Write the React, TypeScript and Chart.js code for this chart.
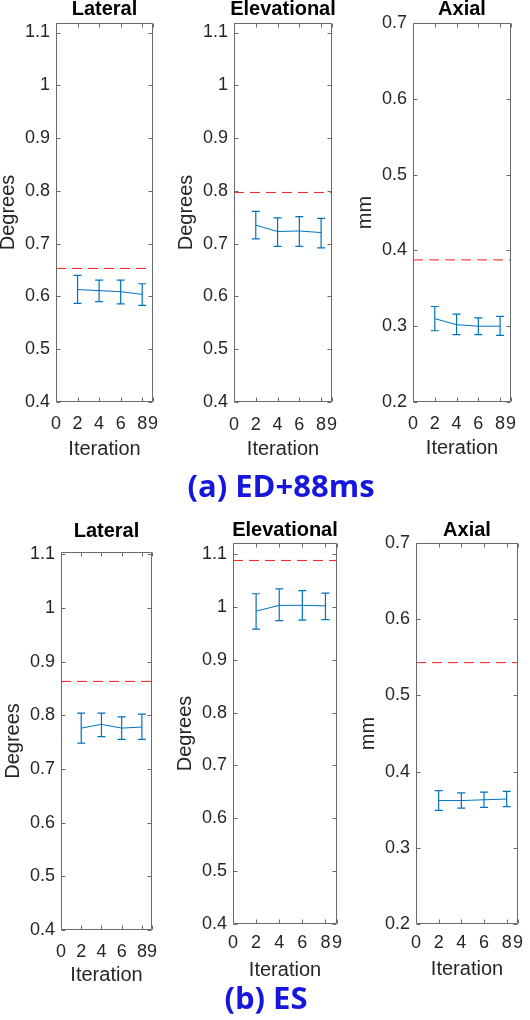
import React, { useEffect, useRef } from "react";
import { Chart, registerables } from "chart.js";

Chart.register(...registerables);

// ---------------- data ----------------
const iterations = [2, 4, 6, 8];
const xTickValues = [0, 2, 4, 6, 8, 9];
const degreeTicks = [0.4, 0.5, 0.6, 0.7, 0.8, 0.9, 1.0, 1.1];
const mmTicks = [0.2, 0.3, 0.4, 0.5, 0.6, 0.7];

const panelTitles = ["Lateral", "Elevational", "Axial"];
const yAxisLabels = ["Degrees", "Degrees", "mm"];
const xAxisLabel = "Iteration";
const rowCaptions = ["(a) ED+88ms", "(b) ES"];

// (a) ED+88ms
const edLateralMean = [0.613, 0.611, 0.609, 0.604];
const edLateralUpper = [0.64, 0.631, 0.631, 0.624];
const edLateralLower = [0.587, 0.59, 0.586, 0.583];
const edLateralRef = 0.653;

const edElevationalMean = [0.735, 0.723, 0.724, 0.721];
const edElevationalUpper = [0.761, 0.749, 0.751, 0.748];
const edElevationalLower = [0.709, 0.695, 0.695, 0.692];
const edElevationalRef = 0.797;

const edAxialMean = [0.31, 0.302, 0.3, 0.3];
const edAxialUpper = [0.326, 0.316, 0.311, 0.313];
const edAxialLower = [0.294, 0.289, 0.289, 0.288];
const edAxialRef = 0.3875;

// (b) ES
const esLateralMean = [0.776, 0.783, 0.776, 0.778];
const esLateralUpper = [0.804, 0.804, 0.797, 0.802];
const esLateralLower = [0.748, 0.76, 0.755, 0.755];
const esLateralRef = 0.863;

const esElevationalMean = [0.992, 1.003, 1.003, 1.002];
const esElevationalUpper = [1.025, 1.034, 1.031, 1.026];
const esElevationalLower = [0.958, 0.974, 0.975, 0.976];
const esElevationalRef = 1.088;

const esAxialMean = [0.362, 0.362, 0.363, 0.364];
const esAxialUpper = [0.375, 0.372, 0.373, 0.374];
const esAxialLower = [0.349, 0.352, 0.353, 0.354];
const esAxialRef = 0.543;

// axis limits
const yLimits = [
  [0.4, 1.118],
  [0.4, 1.118],
  [0.2, 0.7],
  [0.4, 1.104],
  [0.4, 1.121],
  [0.2, 0.7],
];

// ---------------- panels (built from the arrays above) ----------------
const panels = [
  { title: panelTitles[0], yLabel: yAxisLabels[0], yTicks: degreeTicks, lim: yLimits[0], mean: edLateralMean, upper: edLateralUpper, lower: edLateralLower, ref: edLateralRef },
  { title: panelTitles[1], yLabel: yAxisLabels[1], yTicks: degreeTicks, lim: yLimits[1], mean: edElevationalMean, upper: edElevationalUpper, lower: edElevationalLower, ref: edElevationalRef },
  { title: panelTitles[2], yLabel: yAxisLabels[2], yTicks: mmTicks, lim: yLimits[2], mean: edAxialMean, upper: edAxialUpper, lower: edAxialLower, ref: edAxialRef },
  { title: panelTitles[0], yLabel: yAxisLabels[0], yTicks: degreeTicks, lim: yLimits[3], mean: esLateralMean, upper: esLateralUpper, lower: esLateralLower, ref: esLateralRef },
  { title: panelTitles[1], yLabel: yAxisLabels[1], yTicks: degreeTicks, lim: yLimits[4], mean: esElevationalMean, upper: esElevationalUpper, lower: esElevationalLower, ref: esElevationalRef },
  { title: panelTitles[2], yLabel: yAxisLabels[2], yTicks: mmTicks, lim: yLimits[5], mean: esAxialMean, upper: esAxialUpper, lower: esAxialLower, ref: esAxialRef },
];

// ---------------- layout ----------------
// plot area rectangles [left, top, right, bottom] and text gaps
const panelLayouts = [
  { rect: [56, 23, 163, 402], titleGap: 8, tickGap: 21, xLabelGap: 47 },
  { rect: [234, 23, 343, 402], titleGap: 8, tickGap: 22, xLabelGap: 47 },
  { rect: [413, 23, 521, 402], titleGap: 8, tickGap: 21, xLabelGap: 46 },
  { rect: [61, 552, 162, 930], titleGap: 15, tickGap: 21, xLabelGap: 45 },
  { rect: [233, 543, 344, 924], titleGap: 7, tickGap: 18, xLabelGap: 46 },
  { rect: [416, 543, 525, 924], titleGap: 7, tickGap: 18, xLabelGap: 45 },
];

const FONT = '"Liberation Sans", Arial, Helvetica, sans-serif';
const TEXT = "#262626";
const AXIS = "#6a6a6a";
const BLUE = "#0072BD";
const RED = "#ff1a1a";
const CAPTION_BLUE = "#1616dc";

const PAD_L = 4;
const Y_AXIS_W = 58;
const PAD_TOP = 40;
const PAD_R = 6;
const X_AXIS_H = 58;
const PAD_B = 4;

function fmt(v: number) {
  return String(Number(v.toFixed(2)));
}

function ChartPanel({ panel, layout }: { panel: any; layout: any }) {
  const ref = useRef<HTMLCanvasElement>(null);
  const [l, t, r, b] = layout.rect;
  const cw = r - l + Y_AXIS_W + PAD_L + PAD_R;
  const ch = b - t + PAD_TOP + X_AXIS_H + PAD_B;
  const cl = l - Y_AXIS_W - PAD_L;
  const ct = t - PAD_TOP;

  useEffect(() => {
    const canvas = ref.current;
    if (!canvas) return;

    const matlabPlugin = {
      id: "matlabDecor",
      afterDatasetsDraw(chart: any) {
        const { ctx } = chart;
        const xs = chart.scales.x;
        const ys = chart.scales.y;
        ctx.save();
        // error bars
        ctx.strokeStyle = BLUE;
        ctx.lineWidth = 1.2;
        iterations.forEach((it, i) => {
          const px = xs.getPixelForValue(it);
          const pu = ys.getPixelForValue(panel.upper[i]);
          const pl = ys.getPixelForValue(panel.lower[i]);
          ctx.beginPath();
          ctx.moveTo(px, pu);
          ctx.lineTo(px, pl);
          ctx.moveTo(px - 4, pu);
          ctx.lineTo(px + 4, pu);
          ctx.moveTo(px - 4, pl);
          ctx.lineTo(px + 4, pl);
          ctx.stroke();
        });
        ctx.restore();
      },
      afterDraw(chart: any) {
        const { ctx, chartArea } = chart;
        const xs = chart.scales.x;
        const ys = chart.scales.y;
        const L = Math.round(chartArea.left) + 0.5;
        const T = Math.round(chartArea.top) + 0.5;
        const R = Math.round(chartArea.right) - 0.5;
        const B = Math.round(chartArea.bottom) - 0.5;
        ctx.save();
        ctx.strokeStyle = AXIS;
        ctx.lineWidth = 1;
        ctx.beginPath();
        ctx.rect(L, T, R - L, B - T);
        const tl = 4;
        panel.yTicks.forEach((v: number) => {
          const py = Math.round(ys.getPixelForValue(v)) + 0.5;
          ctx.moveTo(L, py);
          ctx.lineTo(L + tl, py);
          ctx.moveTo(R, py);
          ctx.lineTo(R - tl, py);
        });
        xTickValues.forEach((v) => {
          const px = Math.round(xs.getPixelForValue(v)) + 0.5;
          ctx.moveTo(px, B);
          ctx.lineTo(px, B - tl);
          ctx.moveTo(px, T);
          ctx.lineTo(px, T + tl);
        });
        ctx.stroke();
        // panel title
        ctx.fillStyle = "#000";
        ctx.font = `bold 20px ${FONT}`;
        ctx.textAlign = "center";
        ctx.textBaseline = "alphabetic";
        ctx.fillText(panel.title, (chartArea.left + chartArea.right) / 2, chartArea.top - layout.titleGap);
        ctx.restore();
      },
    };

    const chart = new Chart(canvas, {
      type: "line",
      data: {
        datasets: [
          {
            data: iterations.map((x, i) => ({ x, y: panel.mean[i] })),
            borderColor: BLUE,
            borderWidth: 1,
            pointRadius: 0,
            tension: 0,
            fill: false,
          },
          {
            data: [
              { x: 0, y: panel.ref },
              { x: 9, y: panel.ref },
            ],
            borderColor: RED,
            borderWidth: 1,
            borderDash: [10, 6],
            pointRadius: 0,
            fill: false,
          },
        ],
      },
      options: {
        responsive: false,
        animation: false,
        devicePixelRatio: 1,
        layout: { padding: { left: PAD_L, top: PAD_TOP, right: PAD_R, bottom: PAD_B } },
        plugins: {
          legend: { display: false },
          tooltip: { enabled: false },
          title: { display: false },
        },
        scales: {
          x: {
            type: "linear",
            min: 0,
            max: 9,
            grid: { display: false, drawTicks: false },
            border: { display: false },
            afterBuildTicks: (s: any) => {
              s.ticks = xTickValues.map((v) => ({ value: v }));
            },
            afterFit: (s: any) => {
              s.height = X_AXIS_H;
            },
            ticks: {
              autoSkip: false,
              maxRotation: 0,
              minRotation: 0,
              padding: layout.tickGap - 10,
              color: TEXT,
              font: { family: FONT, size: 18 },
              callback: (v: any) => String(v),
            },
            title: {
              display: true,
              text: xAxisLabel,
              color: TEXT,
              font: { family: FONT, size: 20, lineHeight: 1 },
              padding: { top: 0, bottom: X_AXIS_H - layout.xLabelGap - 10 },
            },
          },
          y: {
            type: "linear",
            min: panel.lim[0],
            max: panel.lim[1],
            grid: { display: false, drawTicks: false },
            border: { display: false },
            afterBuildTicks: (s: any) => {
              s.ticks = panel.yTicks.map((v: number) => ({ value: v }));
            },
            afterFit: (s: any) => {
              s.width = Y_AXIS_W;
            },
            ticks: {
              padding: 6,
              color: TEXT,
              font: { family: FONT, size: 18 },
              callback: (v: any) => fmt(Number(v)),
            },
            title: {
              display: true,
              text: panel.yLabel,
              color: TEXT,
              font: { family: FONT, size: 20, lineHeight: 1 },
              padding: { top: 0, bottom: 0 },
            },
          },
        },
      } as any,
      plugins: [matlabPlugin],
    });
    return () => chart.destroy();
  }, []);

  return (
    <canvas
      ref={ref}
      width={cw}
      height={ch}
      style={{ position: "absolute", left: cl, top: ct, width: cw, height: ch }}
    />
  );
}

export default function App() {
  const captionStyle = (cx: number, cy: number): React.CSSProperties => ({
    position: "absolute",
    left: cx,
    top: cy,
    transform: "translate(-50%, -50%)",
    fontFamily: '"Open Sans", sans-serif',
    fontWeight: 700,
    fontSize: 31,
    lineHeight: 1,
    color: CAPTION_BLUE,
    whiteSpace: "nowrap",
  });
  return (
    <div
      style={{
        position: "absolute",
        left: 0,
        top: 0,
        width: 530,
        height: 1020,
        background: "#fff",
        overflow: "hidden",
      }}
    >
      {panels.map((p, i) => (
        <ChartPanel key={i} panel={p} layout={panelLayouts[i]} />
      ))}
      <div style={captionStyle(281, 485)}>{rowCaptions[0]}</div>
      <div style={captionStyle(266, 997)}>{rowCaptions[1]}</div>
    </div>
  );
}
